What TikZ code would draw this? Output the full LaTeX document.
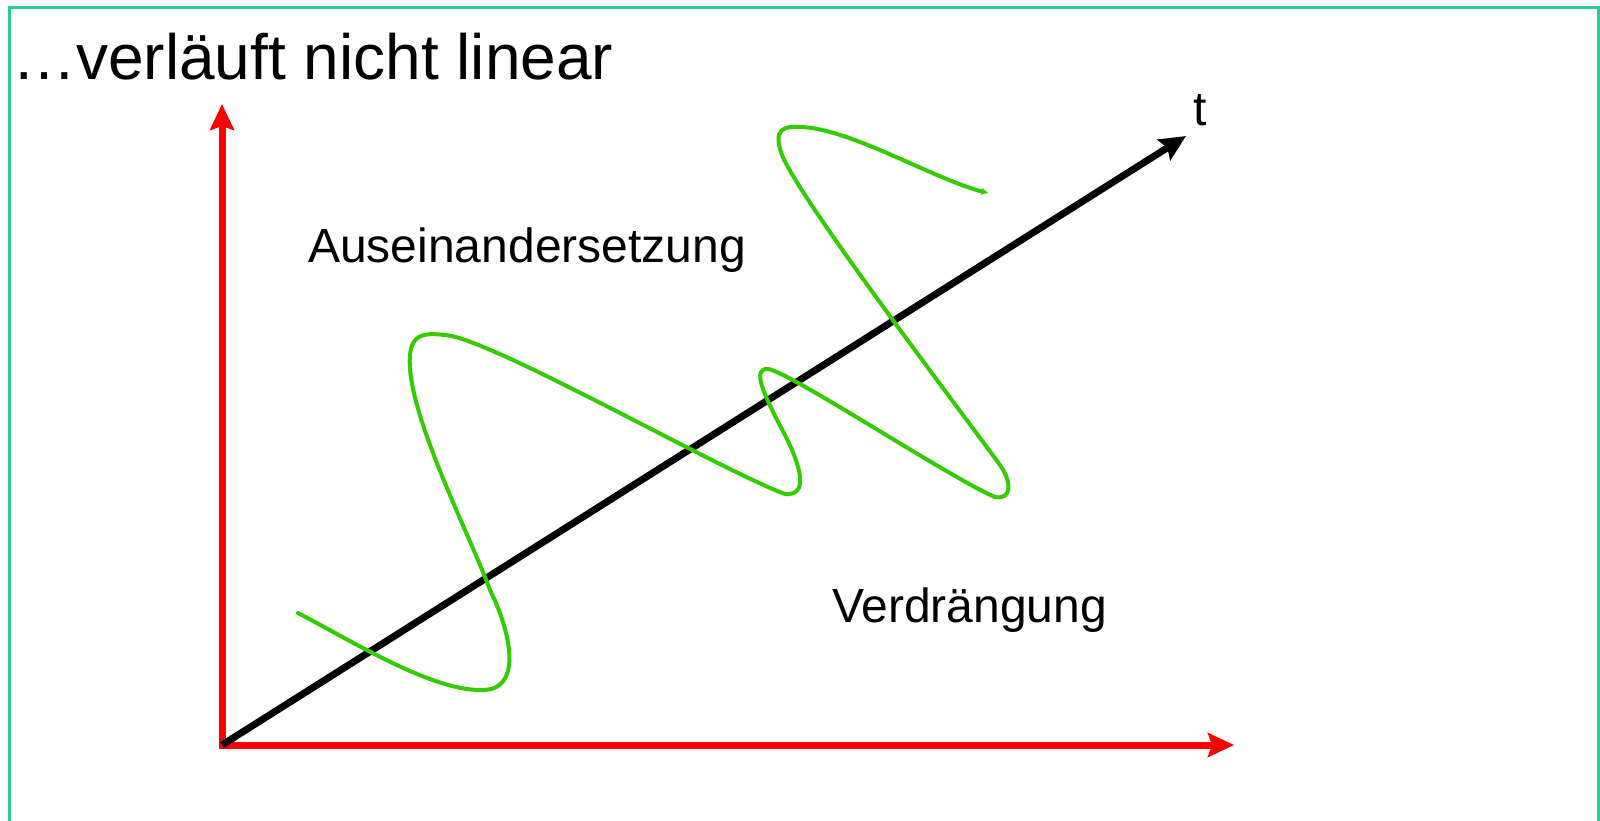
\documentclass[tikz,border=0pt]{standalone}
\usepackage{fontspec}
\setmainfont{Liberation Sans}
\usetikzlibrary{arrows.meta}
\definecolor{framecol}{RGB}{40,204,155}
\definecolor{curvegreen}{RGB}{51,204,0}
\definecolor{axisred}{RGB}{255,0,0}
\tikzset{
  lbl/.style={inner sep=0pt, anchor=base west, font=\fontsize{48}{56}\selectfont},
  ttl/.style={inner sep=0pt, anchor=base west, font=\fontsize{64}{74}\selectfont},
  redaxis/.style={draw=axisred, line width=7pt, -{Stealth[length=26pt,width=24pt,inset=4pt]}},
  blackaxis/.style={draw=black, line width=7pt, -{Stealth[length=26pt,width=24pt,inset=4pt]}},
  wave/.style={draw=curvegreen, line width=4pt, line cap=round, line join=round},
}
\begin{document}
\begin{tikzpicture}[x=1pt,y=-1pt]
\useasboundingbox (0,0) rectangle (1600,821);
\fill[white] (0,0) rectangle (1600,821);
% frame
\draw[framecol, line width=3pt] (9,840) -- (9,8) -- (1598,8) -- (1598,840);
% title and labels
\node[ttl] (title) at (12,80) {…verläuft nicht linear};
\node[lbl] (ause) at (308,262) {Auseinandersetzung};
\node[lbl] (verd) at (832,622) {Verdrängung};
\node[lbl] (tlab) at (1193,126) {t};
% axes
\coordinate (O) at (222,745);
\coordinate (Ytip) at (222,104);
\coordinate (Xtip) at (1234,745);
\coordinate (Ttip) at (1186,136);
\draw[redaxis] ([yshift=3.5pt]O) -- (Ytip);
\draw[redaxis] ([xshift=-3.5pt]O) -- (Xtip);
\draw[blackaxis] (O) -- (Ttip);
% green curve
\coordinate (s) at (298,613);
\coordinate (e) at (988,193);
\draw[wave, -{Stealth[length=7pt,width=7pt]}] (s)
  .. controls (350,640) and (430,690) .. (480,690)
  .. controls (525,692) and (510,630) .. (490,590)
  .. controls (470,535) and (405,410) .. (410,355)
  .. controls (412,333) and (425,333) .. (445,335)
  .. controls (490,338) and (720,470) .. (785,494)
  .. controls (810,496) and (800,465) .. (785,435)
  .. controls (762,392) and (752,368) .. (768,369)
  .. controls (790,372) and (950,478) .. (995,497)
  .. controls (1012,500) and (1012,482) .. (1000,465)
  .. controls (960,410) and (800,200) .. (782,155)
  .. controls (772,128) and (785,126) .. (800,127)
  .. controls (850,128) and (935,180) .. (e);
\end{tikzpicture}
\end{document}
